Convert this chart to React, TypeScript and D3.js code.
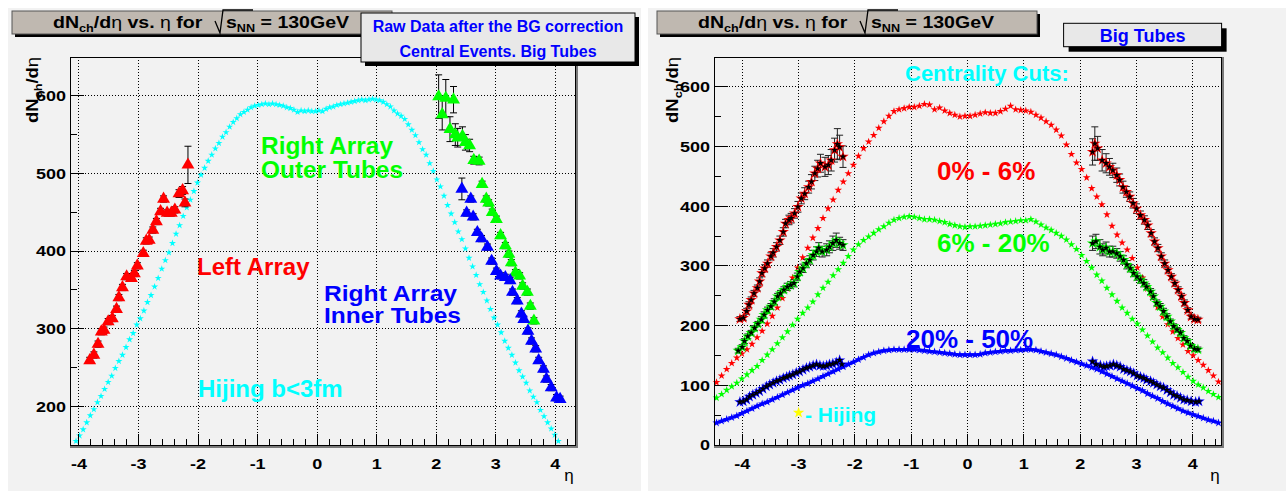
import React from "react";
import * as d3 from "d3";

const FONT = "'Liberation Sans', Arial, Helvetica, sans-serif";
const PAD = "#f2f2f2";
const TAN = "#bfb8b0";
const BOXFILL = "#e8e8e8";
const RED = "#ff0000";
const GREEN = "#00ff00";
const BLUE = "#0000ff";
const CYAN = "#00ffff";
const YELLOW = "#ffff00";

// ---------------- common axis ticks ----------------
const etaTicks = [-4, -3, -2, -1, 0, 1, 2, 3, 4];
const leftYTicks = [200, 300, 400, 500, 600];
const rightYTicks = [0, 100, 200, 300, 400, 500, 600];

// ---------------- LEFT PANEL: central events ----------------
// Hijing b<3fm histogram (bin centres start / width)
const hijingB3Start = -4.05;
const hijingB3Step = 0.06;
const hijingB3 = [
  155, 162, 170, 179, 188, 196, 205, 213, 222, 231,
  239, 249, 258, 266, 276, 286, 294, 305, 313, 323,
  334, 343, 354, 365, 377, 388, 398, 410, 422, 433,
  445, 456, 466, 477, 488, 498, 507, 516, 524, 532,
  539, 547, 553, 560, 566, 571, 576, 579, 582, 585,
  587, 588, 589, 590, 589, 590, 589, 588, 587, 585,
  584, 582, 579, 581, 580, 581, 580, 580, 581, 580,
  583, 585, 586, 588, 589, 590, 591, 592, 593, 594,
  595, 594, 595, 596, 595, 594, 592, 589, 586, 581,
  577, 574, 570, 563, 556, 549, 540, 531, 524, 513,
  503, 492, 483, 471, 459, 448, 437, 425, 415, 403,
  391, 380, 369, 357, 347, 336, 325, 314, 305, 295,
  284, 275, 266, 256, 246, 238, 230, 220, 212, 205,
  195, 187, 179, 171, 163, 155,
];

// Left array (red)
const leftArrayEta = [-3.82, -3.75, -3.68, -3.625, -3.58, -3.51, -3.44, -3.37, -3.33, -3.27, -3.2, -3.12, -3.07, -3.02, -2.92, -2.87, -2.82, -2.76, -2.7, -2.63, -2.58, -2.52, -2.45, -2.39, -2.32, -2.26, -2.22, -2.17];
const leftArrayVal = [259, 266, 280, 296, 298, 309, 313, 325, 340, 353, 367, 365, 371, 381, 397, 413, 414, 427, 438, 451, 467, 449, 449, 453, 474, 478, 462, 511];
const leftArrayErr = [4, 4, 4, 4, 4, 4, 4, 4, 4, 4, 4, 4, 4, 4, 4, 4, 4, 4, 4, 4, 4, 4, 4, 4, 5, 5, 5, 24];

// Right array, outer tubes (green)
const outerEta = [2.04, 2.1, 2.16, 2.23, 2.29, 2.32, 2.36, 2.44, 2.49, 2.56, 2.63, 2.72, 2.77, 2.84, 2.88, 2.94, 3.01, 3.08, 3.16, 3.22, 3.26, 3.33, 3.4, 3.45, 3.53, 3.58, 3.64];
const outerVal = [599, 576, 597, 557, 595, 550, 546, 548, 540, 536, 517, 516, 486, 467, 462, 450, 441, 420, 407, 396, 385, 372, 368, 355, 347, 329, 310];
const outerErr = [28, 20, 24, 16, 17, 14, 12, 12, 10, 8, 5, 5, 4, 4, 4, 4, 4, 4, 4, 4, 4, 4, 4, 4, 4, 4, 4];

// Right array, inner tubes (blue)
const innerEta = [2.43, 2.51, 2.58, 2.62, 2.69, 2.76, 2.86, 2.93, 3.01, 3.08, 3.16, 3.24, 3.28, 3.36, 3.43, 3.47, 3.54, 3.6, 3.67, 3.72, 3.8, 3.85, 3.93, 4.02, 4.08];
const innerVal = [480, 449, 467, 444, 424, 416, 405, 387, 374, 368, 366, 362, 347, 336, 319, 312, 297, 284, 274, 259, 248, 235, 224, 211, 209];
const innerErr = [14, 4, 4, 4, 4, 4, 4, 4, 4, 4, 4, 4, 4, 4, 4, 4, 4, 4, 4, 4, 4, 4, 4, 4, 4];

// ---------------- RIGHT PANEL: centrality cuts ----------------
const hijBinStart = -4.455;
const hijBinStep = 0.09;
const hij0to6 = [
  105, 116, 127, 137, 146, 153, 160, 169, 180, 191,
  203, 216, 230, 246, 262, 280, 297, 314, 330, 347,
  363, 380, 396, 411, 427, 441, 455, 469, 484, 497,
  508, 519, 531, 542, 551, 559, 562, 564, 566, 566,
  568, 571, 570, 562, 565, 560, 556, 553, 550, 551,
  551, 553, 555, 557, 556, 556, 559, 563, 568, 562,
  561, 560, 558, 553, 548, 542, 536, 528, 518, 503,
  487, 473, 462, 448, 430, 416, 403, 386, 367, 352,
  339, 327, 313, 297, 280, 262, 247, 231, 215, 202,
  190, 179, 168, 157, 150, 142, 134, 125, 116, 106,
];
const hij6to20 = [
  79, 85, 92, 98, 104, 111, 118, 125, 132, 142,
  151, 160, 170, 180, 190, 201, 211, 221, 230, 240,
  252, 263, 273, 284, 294, 305, 316, 327, 336, 343,
  349, 355, 361, 366, 372, 377, 380, 382, 383, 382,
  380, 378, 378, 377, 375, 373, 370, 368, 366, 365,
  366, 366, 367, 368, 369, 370, 371, 373, 374, 375,
  376, 376, 378, 374, 369, 364, 360, 355, 350, 344,
  336, 328, 318, 308, 297, 285, 275, 263, 252, 241,
  230, 221, 211, 203, 193, 183, 173, 163, 155, 146,
  137, 130, 122, 114, 107, 101, 96, 90, 85, 80,
];
const hij20to50 = [
  37, 40, 43, 46, 49, 53, 57, 61, 65, 69,
  72, 76, 80, 84, 88, 92, 96, 100, 103, 107,
  111, 115, 119, 123, 127, 131, 135, 139, 143, 147,
  151, 154, 156, 158, 159, 160, 160, 160, 160, 160,
  159, 158, 157, 156, 155, 154, 153, 152, 151, 151,
  151, 151, 152, 154, 155, 156, 157, 158, 158, 159,
  159, 160, 160, 159, 157, 155, 153, 151, 148, 145,
  142, 139, 136, 133, 130, 127, 123, 119, 115, 111,
  107, 103, 99, 95, 91, 86, 82, 78, 73, 69,
  65, 61, 57, 54, 51, 48, 45, 42, 40, 37,
];

// Measured data 0% - 6%
const d06Eta = [-4.04, -3.98, -3.92, -3.88, -3.84, -3.79, -3.73, -3.69, -3.65, -3.6, -3.55, -3.49, -3.45, -3.39, -3.33, -3.27, -3.23, -3.17, -3.13, -3.07, -3.01, -2.95, -2.89, -2.82, -2.77, -2.71, -2.66, -2.61, -2.53, -2.47, -2.42, -2.36, -2.31, -2.27, -2.21,
  2.22, 2.26, 2.31, 2.39, 2.46, 2.52, 2.58, 2.65, 2.7, 2.76, 2.82, 2.88, 2.94, 3.0, 3.07, 3.14, 3.2, 3.26, 3.32, 3.38, 3.44, 3.5, 3.56, 3.62, 3.68, 3.74, 3.8, 3.85, 3.91, 3.97, 4.03, 4.09];
const d06Val = [211, 213, 224, 235, 243, 254, 263, 274, 288, 296, 304, 316, 322, 332, 343, 357, 371, 377, 380, 388, 399, 413, 421, 432, 441, 455, 463, 472, 466, 469, 477, 494, 504, 499, 483,
  491, 505, 497, 477, 472, 466, 460, 452, 444, 432, 424, 416, 405, 396, 385, 377, 368, 355, 341, 330, 316, 304, 293, 282, 271, 260, 249, 238, 226, 215, 211, 210];
const d06Err = [4, 4, 5, 5, 5, 5, 5, 6, 6, 6, 6, 6, 7, 7, 7, 7, 7, 8, 8, 8, 9, 9, 10, 10, 12, 12, 14, 15, 16, 16, 18, 20, 26, 20, 18,
  22, 28, 20, 18, 16, 14, 12, 12, 10, 10, 9, 8, 8, 8, 7, 7, 7, 6, 6, 6, 6, 6, 5, 5, 5, 5, 5, 5, 4, 4, 4, 4];

// Measured data 6% - 20%
const d620Eta = [-4.07, -4.0, -3.96, -3.9, -3.84, -3.78, -3.72, -3.66, -3.61, -3.55, -3.49, -3.43, -3.37, -3.32, -3.26, -3.2, -3.14, -3.08, -3.02, -2.98, -2.92, -2.86, -2.8, -2.74, -2.68, -2.64, -2.58, -2.5, -2.45, -2.39, -2.33, -2.27, -2.21,
  2.22, 2.28, 2.35, 2.4, 2.46, 2.52, 2.58, 2.65, 2.71, 2.77, 2.83, 2.89, 2.95, 3.01, 3.07, 3.13, 3.18, 3.25, 3.3, 3.36, 3.42, 3.48, 3.54, 3.6, 3.66, 3.72, 3.78, 3.84, 3.9, 3.96, 4.03, 4.09];
const d620Val = [158, 164, 174, 182, 188, 196, 203, 210, 218, 226, 232, 240, 249, 254, 260, 265, 268, 271, 282, 290, 296, 304, 310, 318, 324, 330, 324, 327, 332, 338, 343, 338, 335,
  338, 341, 332, 327, 330, 324, 324, 321, 316, 310, 302, 296, 288, 282, 277, 271, 265, 257, 249, 238, 232, 224, 215, 207, 199, 193, 188, 179, 174, 166, 161, 160];
const d620Err = [4, 4, 4, 4, 4, 4, 4, 5, 5, 5, 5, 5, 5, 5, 5, 6, 6, 6, 6, 6, 7, 7, 7, 8, 8, 9, 9, 10, 10, 12, 12, 10, 9,
  12, 12, 12, 10, 10, 9, 9, 8, 8, 7, 7, 6, 6, 6, 6, 6, 5, 5, 5, 5, 5, 5, 5, 4, 4, 4, 4, 4, 4, 4, 4, 4];

// Measured data 20% - 50%
const d2050Eta = [-4.04, -3.98, -3.92, -3.87, -3.81, -3.75, -3.69, -3.63, -3.57, -3.51, -3.45, -3.39, -3.33, -3.27, -3.21, -3.16, -3.1, -3.04, -2.98, -2.92, -2.86, -2.8, -2.74, -2.68, -2.62, -2.56, -2.5, -2.45, -2.39, -2.33, -2.27, -2.23,
  2.22, 2.28, 2.36, 2.42, 2.47, 2.53, 2.59, 2.65, 2.71, 2.77, 2.83, 2.89, 2.95, 3.01, 3.07, 3.13, 3.18, 3.25, 3.3, 3.36, 3.42, 3.48, 3.54, 3.6, 3.66, 3.72, 3.78, 3.84, 3.9, 3.97, 4.05, 4.11];
const d2050Val = [72, 73, 76, 81, 84, 87, 90, 94, 98, 101, 104, 107, 109, 112, 114, 116, 118, 121, 123, 126, 129, 131, 133, 135, 133, 132, 133, 135, 136, 138, 142, 135,
  140, 135, 133, 131, 132, 133, 135, 133, 131, 127, 125, 123, 120, 116, 114, 112, 109, 107, 104, 101, 98, 96, 92, 88, 84, 82, 79, 76, 75, 73, 72, 73];

// ---------------- geometry ----------------
type Box = { l: number; r: number; t: number; b: number; xDom: [number, number]; yDom: [number, number] };
const LEFT: Box = { l: 70, r: 575, t: 57, b: 445, xDom: [-4.151, 4.33], yDom: [150, 650] };
const RIGHT: Box = { l: 714, r: 1221, t: 57, b: 445, xDom: [-4.5, 4.5], yDom: [0, 650] };

const STAR_K = 0.8908130915292852;
const starD = (r: number) => d3.symbol(d3.symbolStar, (r * r) / STAR_K)() as string;
const TRI = d3.symbol(d3.symbolTriangle, 72)() as string;

function scalesFor(b: Box) {
  const xs = d3.scaleLinear().domain(b.xDom).range([b.l, b.r]);
  const ys = d3.scaleLinear().domain(b.yDom).range([b.b, b.t]);
  return { xs, ys };
}

function FrameBack({ box, xs, ys, yMajor }: any) {
  return (
    <g>
      <rect x={box.l} y={box.t} width={box.r - box.l} height={box.b - box.t} fill={PAD} />
      <g stroke="#000" strokeWidth={1} strokeDasharray="1 2" shapeRendering="crispEdges">
        {etaTicks.map((v) => (
          <line key={"gx" + v} x1={xs(v)} x2={xs(v)} y1={box.t} y2={box.b} />
        ))}
        {yMajor.map((v: number) => (
          <line key={"gy" + v} x1={box.l} x2={box.r} y1={ys(v)} y2={ys(v)} />
        ))}
      </g>
    </g>
  );
}

function FrameFront({ box, xs, ys, yMajor, titleX }: any) {
  const xMinor = xs.ticks(42).filter((v: number) => Math.abs(v - Math.round(v)) > 1e-6);
  const yMinor = ys.ticks(12).filter((v: number) => v % 100 !== 0);
  return (
    <g>
      <rect x={box.r} y={box.t} width={3} height={box.b - box.t + 3} fill="#7a7a7a" />
      <rect x={box.l} y={box.b} width={box.r - box.l + 3} height={3} fill="#7a7a7a" />
      <rect x={box.l} y={box.t} width={box.r - box.l} height={box.b - box.t} fill="none" stroke="#000" strokeWidth={1} shapeRendering="crispEdges" />
      <g stroke="#000" strokeWidth={1} shapeRendering="crispEdges">
        {etaTicks.map((v) => (
          <line key={"tx" + v} x1={xs(v)} x2={xs(v)} y1={box.b} y2={box.b - 11} />
        ))}
        {xMinor.map((v: number) => (
          <line key={"mx" + v} x1={xs(v)} x2={xs(v)} y1={box.b} y2={box.b - 6} />
        ))}
        {yMajor.map((v: number) => (
          <line key={"ty" + v} x1={box.l} x2={box.l + 14} y1={ys(v)} y2={ys(v)} />
        ))}
        {yMinor.map((v: number) => (
          <line key={"my" + v} x1={box.l} x2={box.l + 7} y1={ys(v)} y2={ys(v)} />
        ))}
      </g>
      <g fontSize={15} fontWeight="bold" fill="#000">
        {etaTicks.map((v) => (
          <text key={"lx" + v} transform={`translate(${xs(v)},468.5) scale(1.2,1)`} textAnchor="middle">
            {String(v)}
          </text>
        ))}
        {yMajor.map((v: number) => (
          <text key={"ly" + v} transform={`translate(${box.l - 4},${ys(v) + 5.3}) scale(1.2,1)`} textAnchor="end">
            {String(v)}
          </text>
        ))}
      </g>
      <text x={box.r - 6} y={481} fontSize={17} textAnchor="middle">η</text>
      <text transform={`translate(${titleX},57) rotate(-90) scale(1.15,1)`} textAnchor="end" fontSize={16} fontWeight="bold">
        dN<tspan fontSize={11} dy={4}>ch</tspan>
        <tspan dy={-4}>/d</tspan>
        <tspan fontWeight="normal">η</tspan>
      </text>
    </g>
  );
}

function TitleBox({ dx }: { dx: number }) {
  return (
    <g transform={`translate(${dx},0)`}>
      <rect x={15} y={14} width={380} height={23} fill="#000" />
      <rect x={12} y={11} width={380} height={23} fill={TAN} stroke="#555" strokeWidth={1} />
      <text transform="translate(53,28.3) scale(1.15,1)" fontSize={17} fontWeight="bold">
        dN<tspan fontSize={11} dy={4}>ch</tspan>
        <tspan dy={-4}>/d</tspan>
        <tspan fontWeight="normal">η</tspan>
        <tspan>{" vs. "}</tspan>
        <tspan fontWeight="normal">η</tspan>
        <tspan>{" for"}</tspan>
      </text>
      <path d="M215,21 L220,33 L223,10 L253,10" fill="none" stroke="#000" strokeWidth={1.3} />
      <text transform="translate(226,28.3) scale(1.15,1)" fontSize={17} fontWeight="bold">
        s<tspan fontSize={11} dy={4}>NN</tspan>
        <tspan dy={-4}>{" = 130GeV"}</tspan>
      </text>
    </g>
  );
}

function ErrBars({ xs, ys, eta, val, err, color, cap }: any) {
  return (
    <g stroke={color} strokeWidth={1}>
      {eta.map((e: number, i: number) => {
        const x = xs(e);
        const y1 = ys(val[i] + err[i]);
        const y2 = ys(val[i] - err[i]);
        return (
          <g key={i}>
            <line x1={x} x2={x} y1={y1} y2={y2} />
            <line x1={x - cap} x2={x + cap} y1={y1} y2={y1} />
            <line x1={x - cap} x2={x + cap} y1={y2} y2={y2} />
          </g>
        );
      })}
    </g>
  );
}

function Markers({ xs, ys, eta, val, d, fill }: any) {
  return (
    <g fill={fill}>
      {eta.map((e: number, i: number) => (
        <path key={i} d={d} transform={`translate(${xs(e)},${ys(val[i])})`} />
      ))}
    </g>
  );
}

function LeftPanel() {
  const box = LEFT;
  const { xs, ys } = scalesFor(box);
  const hEta = hijingB3.map((_, i) => hijingB3Start + i * hijingB3Step);
  const star = starD(3.7);
  return (
    <g>
      <rect x={8} y={8} width={633} height={483} fill={PAD} />
      <FrameBack box={box} xs={xs} ys={ys} yMajor={leftYTicks} />
      <Markers xs={xs} ys={ys} eta={hEta} val={hijingB3} d={star} fill={CYAN} />
      <ErrBars xs={xs} ys={ys} eta={leftArrayEta} val={leftArrayVal} err={leftArrayErr} color="#000" cap={3.5} />
      <Markers xs={xs} ys={ys} eta={leftArrayEta} val={leftArrayVal} d={TRI} fill={RED} />
      <ErrBars xs={xs} ys={ys} eta={outerEta} val={outerVal} err={outerErr} color="#000" cap={3.5} />
      <Markers xs={xs} ys={ys} eta={outerEta} val={outerVal} d={TRI} fill={GREEN} />
      <ErrBars xs={xs} ys={ys} eta={innerEta} val={innerVal} err={innerErr} color="#000" cap={3.5} />
      <Markers xs={xs} ys={ys} eta={innerEta} val={innerVal} d={TRI} fill={BLUE} />
      <g fontWeight="bold">
        <text x={261} y={154} fill={GREEN} fontSize={23.5} textLength={132} lengthAdjust="spacingAndGlyphs">Right Array</text>
        <text x={261} y={178} fill={GREEN} fontSize={23.5} textLength={142} lengthAdjust="spacingAndGlyphs">Outer Tubes</text>
        <text x={197} y={275} fill={RED} fontSize={24}>Left Array</text>
        <text x={324} y={300.7} fill={BLUE} fontSize={22.5} textLength={133} lengthAdjust="spacingAndGlyphs">Right Array</text>
        <text x={324} y={323.3} fill={BLUE} fontSize={22.5} textLength={137} lengthAdjust="spacingAndGlyphs">Inner Tubes</text>
        <text x={198} y={396.7} fill={CYAN} fontSize={24}>Hijing b&lt;3fm</text>
      </g>
      <FrameFront box={box} xs={xs} ys={ys} yMajor={leftYTicks} titleX={38} />
      <TitleBox dx={0} />
      <rect x={365} y={17} width={274} height={49} fill="#000" />
      <rect x={361} y={13} width={274} height={49} fill={BOXFILL} stroke="#000" strokeWidth={1} />
      <g fontSize={16} fontWeight="bold" fill={BLUE} textAnchor="middle">
        <text x={498} y={32.3}>Raw Data after the BG correction</text>
        <text x={498} y={56.7}>Central Events. Big Tubes</text>
      </g>
    </g>
  );
}

function DataSeries({ xs, ys, eta, val, err, halo }: any) {
  const big = starD(6);
  const small = starD(3.8);
  return (
    <g>
      {err && <ErrBars xs={xs} ys={ys} eta={eta} val={val} err={err} color="#222" cap={3.5} />}
      <Markers xs={xs} ys={ys} eta={eta} val={val} d={big} fill={halo} />
      <Markers xs={xs} ys={ys} eta={eta} val={val} d={small} fill="#000" />
    </g>
  );
}

function RightPanel() {
  const box = RIGHT;
  const { xs, ys } = scalesFor(box);
  const hEta = hij0to6.map((_, i) => hijBinStart + i * hijBinStep);
  const hStar = starD(4.1);
  const line = d3
    .line<number>()
    .x((_, i) => xs(hEta[i]))
    .y((v) => ys(v));
  return (
    <g>
      <rect x={648} y={8} width={638} height={483} fill={PAD} />
      <FrameBack box={box} xs={xs} ys={ys} yMajor={rightYTicks} />
      <path d={line(hij20to50) as string} fill="none" stroke={BLUE} strokeWidth={3} />
      <Markers xs={xs} ys={ys} eta={hEta} val={hij20to50} d={starD(4.3)} fill={BLUE} />
      <Markers xs={xs} ys={ys} eta={hEta} val={hij6to20} d={hStar} fill={GREEN} />
      <Markers xs={xs} ys={ys} eta={hEta} val={hij0to6} d={hStar} fill={RED} />
      <DataSeries xs={xs} ys={ys} eta={d2050Eta} val={d2050Val} halo={BLUE} />
      <DataSeries xs={xs} ys={ys} eta={d620Eta} val={d620Val} err={d620Err} halo={GREEN} />
      <DataSeries xs={xs} ys={ys} eta={d06Eta} val={d06Val} err={d06Err} halo={RED} />
      <text x={905} y={81} fontSize={22} fontWeight="bold" fill={CYAN}>Centrality Cuts:</text>
      <g fontSize={26} fontWeight="bold">
        <text x={937} y={180} fill={RED}>0% - 6%</text>
        <text x={937} y={251.5} fill={GREEN}>6% - 20%</text>
        <text x={906} y={348} fill={BLUE}>20% - 50%</text>
      </g>
      <path d={starD(6)} transform="translate(798.6,412.7)" fill={YELLOW} />
      <text x={805} y={421.7} fontSize={21} fontWeight="bold" fill={CYAN}>{" - Hijing"}</text>
      <FrameFront box={box} xs={xs} ys={ys} yMajor={rightYTicks} titleX={678} />
      <TitleBox dx={645} />
      <rect x={1068.6} y={28.3} width={158} height={23.4} fill="#000" />
      <rect x={1063.6} y={23.3} width={158} height={23.4} fill={BOXFILL} stroke="#000" strokeWidth={1} />
      <text x={1142.6} y={41.7} fontSize={18} fontWeight="bold" fill={BLUE} textAnchor="middle">Big Tubes</text>
    </g>
  );
}

export default function App() {
  return (
    <svg
      width={1286}
      height={491}
      style={{ position: "absolute", left: 0, top: 0, display: "block" }}
      fontFamily={FONT}
    >
      <rect x={0} y={0} width={1286} height={491} fill="#ffffff" />
      <LeftPanel />
      <RightPanel />
    </svg>
  );
}
